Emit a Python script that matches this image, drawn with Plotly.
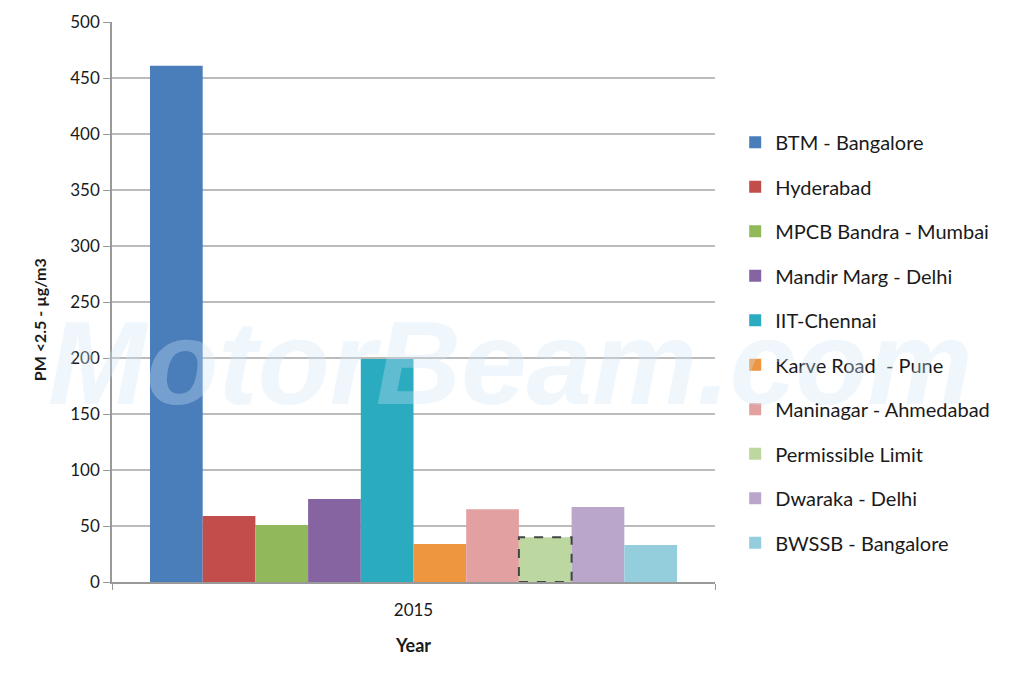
import plotly.graph_objects as go

categories = ["2015"]
series_names = ["BTM - Bangalore", "Hyderabad", "MPCB Bandra - Mumbai", "Mandir Marg - Delhi",
                "IIT-Chennai", "Karve Road  - Pune", "Maninagar - Ahmedabad", "Permissible Limit",
                "Dwaraka - Delhi", "BWSSB - Bangalore"]
series_values = [461, 59, 51, 74, 199, 34, 65, 40, 67, 33]
colors = ["#4A7EBB", "#C24E4B", "#91B85A", "#8663A1", "#2BABBF", "#EE9540",
          "#E2A0A0", "#BCD8A0", "#BAA6CB", "#94CEDD"]
y_ticks = [0, 50, 100, 150, 200, 250, 300, 350, 400, 450, 500]
y_title = "PM <2.5 - µg/m3"
x_title = "Year"

FONT = "Lato, 'Open Sans', sans-serif"
TXT = "#1a1a1a"
bargap = 0.126

fig = go.Figure()
for i, (name, val, col) in enumerate(zip(series_names, series_values, colors)):
    fig.add_trace(go.Bar(
        x=categories, y=[val], name=name,
        marker=dict(color=col, line=dict(width=0)),
        legendgroup=f"g{i}",
    ))

# dashed outline for the permissible limit bar, positioned from the layout parameters
n = len(series_names)
w = (1 - bargap) / n
idx = series_names.index("Permissible Limit")
x0 = -0.5 + bargap / 2 + idx * w
fig.add_shape(type="rect", xref="x", yref="y", x0=x0, x1=x0 + w, y0=0,
              y1=series_values[idx], line=dict(color="#444444", width=2, dash="dash"),
              fillcolor="rgba(0,0,0,0)", layer="above")

# faint watermark
fig.add_annotation(text="<b><i>MotorBeam.com</i></b>", xref="paper", yref="paper",
                   x=0.66, y=0.27, showarrow=False,
                   font=dict(family="Liberation Sans", size=118, color="rgba(205,228,246,0.33)"))

# y-axis title
fig.add_annotation(text=f"<b>{y_title}</b>", xref="paper", yref="paper",
                   x=-0.119, y=0.468, showarrow=False, textangle=-90,
                   xanchor="center", yanchor="middle",
                   font=dict(family=FONT, size=16, color=TXT))

fig.update_layout(
    width=1024, height=684,
    margin=dict(l=112, r=309, t=22, b=102),
    paper_bgcolor="white", plot_bgcolor="white",
    barmode="group", bargap=bargap, bargroupgap=0,
    font=dict(family=FONT, color=TXT, size=17),
    showlegend=True,
    legend=dict(x=1.0335, y=0.82, xanchor="left", yanchor="top",
                font=dict(family=FONT, size=20, color=TXT),
                tracegroupgap=15.5, traceorder="grouped", itemwidth=30),
    xaxis=dict(type="category", range=[-0.5, 0.5], showgrid=False,
               showline=True, linecolor="#999999", linewidth=1.5,
               ticks="outside", tickson="boundaries", ticklen=6, tickcolor="#999999",
               tickfont=dict(size=17, color=TXT), ticklabelstandoff=12,
               title=dict(text=f"<b>{x_title}</b>", font=dict(size=18, color=TXT), standoff=20)),
    yaxis=dict(range=[0, 500], tickvals=y_ticks, showgrid=True, gridcolor="#BBBBBB",
               gridwidth=1.5, showline=True, linecolor="#999999", linewidth=1.5,
               ticks="outside", ticklen=7, tickcolor="#999999",
               tickfont=dict(size=17, color=TXT),
               zeroline=False),
)

fig.write_html("out.html")
